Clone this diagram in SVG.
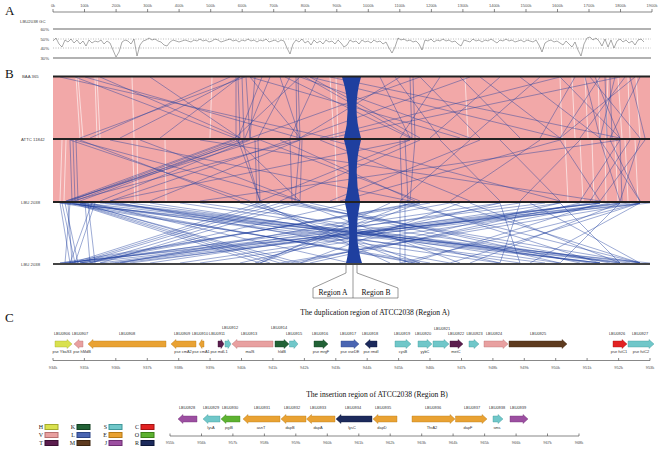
<svg xmlns="http://www.w3.org/2000/svg" width="662" height="449" viewBox="0 0 662 449">
<style>
.lab{font-family:"Liberation Sans",Arial,sans-serif;font-size:3.9px;fill:#333;text-anchor:middle}
.tk{font-family:"Liberation Sans",Arial,sans-serif;font-size:4px;fill:#555;text-anchor:middle}
.sm{font-family:"Liberation Sans",Arial,sans-serif;font-size:4.3px;fill:#444}
.ttl{font-family:"Liberation Serif","Times New Roman",serif;font-size:7.6px;fill:#111;text-anchor:middle}
.big{font-family:"Liberation Serif","Times New Roman",serif;font-size:13px;fill:#111}
.leg{font-family:"Liberation Serif","Times New Roman",serif;font-size:6px;fill:#222;text-anchor:end}
.ax{stroke:#555;stroke-width:0.7;fill:none}
.bar{stroke:#222;stroke-width:2}
.syn{stroke:#1f3f9f;stroke-width:0.55;stroke-opacity:0.8;fill:none}
.wst{stroke:#fff;stroke-width:0.8;stroke-opacity:0.75;fill:none}
.gene{stroke-width:0.4}
.H{fill:#d9e14e;stroke:#a3aa2c}.V{fill:#e8a0a0;stroke:#b77070}.T{fill:#5b1d4e;stroke:#3a0f32}
.K{fill:#226236;stroke:#123f20}.L{fill:#4a65b2;stroke:#2d4585}.M{fill:#5e3b1f;stroke:#3c240f}
.S{fill:#70c7c9;stroke:#3f9799}.E{fill:#e9a233;stroke:#b67a17}.J{fill:#9c4fa1;stroke:#6e2e73}
.C{fill:#e22222;stroke:#a51212}.O{fill:#5db231;stroke:#3c8018}.R{fill:#1c2a5c;stroke:#0c1638}
</style>

<!-- Section A -->
<text class="big" x="5" y="15">A</text>
<g id="genome-axis">
<path class="ax" d="M53,12H652M53,12v-3M84.5,12v-3M116.1,12v-3M147.6,12v-3M179.1,12v-3M210.7,12v-3M242.2,12v-3M273.7,12v-3M305.2,12v-3M336.8,12v-3M368.3,12v-3M399.8,12v-3M431.4,12v-3M462.9,12v-3M494.4,12v-3M526,12v-3M557.5,12v-3M589,12v-3M620.5,12v-3M652,12v-3"/>
<text class="tk" x="53" y="7">0k</text><text class="tk" x="84.5" y="7">100k</text><text class="tk" x="116.1" y="7">200k</text><text class="tk" x="147.6" y="7">300k</text><text class="tk" x="179.1" y="7">400k</text><text class="tk" x="210.7" y="7">500k</text><text class="tk" x="242.2" y="7">600k</text><text class="tk" x="273.7" y="7">700k</text><text class="tk" x="305.2" y="7">800k</text><text class="tk" x="336.8" y="7">900k</text><text class="tk" x="368.3" y="7">1000k</text><text class="tk" x="399.8" y="7">1100k</text><text class="tk" x="431.4" y="7">1200k</text><text class="tk" x="462.9" y="7">1300k</text><text class="tk" x="494.4" y="7">1400k</text><text class="tk" x="526" y="7">1500k</text><text class="tk" x="557.5" y="7">1600k</text><text class="tk" x="589" y="7">1700k</text><text class="tk" x="620.5" y="7">1800k</text><text class="tk" x="652" y="7">1900k</text>
</g>
<g id="gc-plot">
<text class="sm" x="20" y="23">LBU2038 GC</text>
<path d="M53,29H651M53,58H651" stroke="#666" stroke-width="1.2"/>
<path d="M53,39H651M53,48H651" stroke="#777" stroke-width="0.5" stroke-dasharray="1,1.5"/>
<text class="sm" x="49" y="30.5" text-anchor="end">60%</text>
<text class="sm" x="49" y="40.5" text-anchor="end">50%</text>
<text class="sm" x="49" y="49.5" text-anchor="end">40%</text>
<text class="sm" x="49" y="59.5" text-anchor="end">30%</text>
<polyline fill="none" stroke="#555" stroke-width="0.5" points="53,41 56,38 59,44 62,47 65,40 68,42 71,39 74,43 77,40 80,44 83,41 86,46 89,40 92,43 95,41 98,42 101,40 104,44 107,41 110,43 113,50 116,57 119,52 122,42 125,40 128,41 131,44 134,39 137,56 140,45 143,41 146,40 149,38 152,40 155,39 158,41 161,42 164,45 167,46 170,42 173,40 176,41 179,42 182,41 185,40 188,41 191,42 194,40 197,41 200,39 203,41 206,40 209,42 212,41 215,39 218,40 221,42 224,41 227,40 230,39 233,41 236,40 239,42 242,40 245,41 248,39 251,41 254,40 257,42 260,40 263,41 266,39 269,42 272,41 275,40 278,42 281,40 284,41 287,48 290,54 293,44 296,40 299,42 302,39 305,43 308,41 311,45 314,40 317,43 320,41 323,44 326,40 329,42 332,41 335,44 338,40 341,43 344,47 347,45 350,40 353,42 356,41 359,44 362,40 365,42 368,41 371,43 374,40 377,42 380,41 383,44 386,42 389,48 392,53 395,47 398,38 401,40 404,39 407,41 410,40 413,42 416,41 419,44 422,50 425,40 428,41 431,39 434,42 437,40 440,41 443,39 446,41 449,40 452,42 455,41 458,44 461,46 464,40 467,41 470,42 473,39 476,41 479,40 482,42 485,40 488,41 491,39 494,41 497,43 500,40 503,41 506,39 509,41 512,40 515,42 518,41 521,40 524,42 527,40 530,41 533,42 536,40 539,45 542,52 545,43 548,41 551,40 554,42 557,41 560,43 563,45 566,41 569,44 572,47 575,42 578,50 581,56 584,44 587,38 590,37 593,40 596,38 599,41 602,46 605,39 608,47 611,40 614,48 617,41 620,39 623,42 626,40 629,43 632,41 635,45 638,40 641,39 644,42"/>
</g>

<!-- Section B -->
<text class="big" x="5" y="78">B</text>
<g id="synteny-background">
<rect x="53" y="77" width="597" height="61" fill="#f2a8a8"/>
<rect x="53" y="140" width="597" height="61" fill="#f2a8a8"/>
<path class="wst" d="M76 77L80 138M78 77L83 138M95 77L97 138M97 77L100 138M132 77L134 138M212 77L210 138M330 77L334 138M336 77L338 138M465 77L468 138M560 77L562 138M572 77L575 138M585 77L588 138M598 77L600 138M608 77L606 138M618 77L622 138M628 77L630 138M636 77L640 138M62 140L60 201M66 140L64 201M132 140L135 201M137 140L138 201M165 140L166 201M335 140L337 201M565 140L568 201M580 140L583 201M592 140L594 201M605 140L606 201M615 140L618 201M625 140L628 201M635 140L638 201"/>
</g>
<g id="connectors">
<path class="syn" d="M75 77L235 138M85 77L300 138M100 77L240 138M230 77L90 138M240 77L120 138M250 77L300 138M262 77L238 138M270 77L245 138M280 77L300 138M290 77L258 138M300 77L235 138M305 77L412 138M310 77L420 138M318 77L290 138M380 77L410 138M395 77L440 138M400 77L300 138M420 77L480 138M440 77L400 138M460 77L520 138M480 77L560 138M500 77L430 138M520 77L600 138M540 77L470 138M560 77L620 138M575 77L540 138M590 77L640 138M600 77L560 138M615 77L600 138M625 77L580 138M630 77L645 138M640 77L610 138M300 77L470 138M310 77L560 138M470 77L300 138M560 77L320 138M150 77L240 138M240 77L160 138M250 77L460 138M420 77L250 138M330 77L620 138M620 77L330 138M236 77L236 138M238 77L240 138M242 77L244 138M246 77L250 138M296 77L297 138M298 77L300 138M410 77L412 138M413 77L415 138M605 77L607 138M610 77L612 138M60 77L330 138M245 77L80 138M255 77L250 138M285 77L410 138M585 77L600 138M595 77L620 138M635 77L560 138"/>
<path class="syn" d="M235 140L70 201M240 140L75 201M245 140L80 201M300 140L72 201M236 140L300 201M238 140L260 201M250 140L100 201M80 140L240 201M75 140L300 201M70 140L250 201M260 140L66 201M290 140L110 201M300 140L295 201M302 140L300 201M410 140L260 201M420 140L280 201M415 140L410 201M260 140L420 201M280 140L415 201M440 140L500 201M470 140L400 201M500 140L560 201M540 140L450 201M560 140L600 201M580 140L520 201M600 140L640 201M620 140L580 201M640 140L620 201M645 140L600 201M600 140L620 201M330 140L560 201M560 140L340 201M320 140L470 201M480 140L330 201M140 140L300 201M300 140L150 201M110 140L410 201M410 140L110 201M200 140L600 201M620 140L200 201M70 140L72 201M73 140L75 201M76 140L78 201M255 140L257 201M258 140L260 201M290 140L292 201M400 140L402 201M405 140L408 201M620 140L622 201M232 140L66 201M242 140L260 201M248 140L68 201M610 140L640 201M630 140L590 201"/>
<path class="syn" d="M60 203L70 263M62 203L75 263M65 203L78 263M68 203L72 263M70 203L65 263M72 203L260 263M74 203L270 263M76 203L280 263M78 203L300 263M80 203L290 263M100 203L600 263M105 203L620 263M110 203L640 263M260 203L72 263M270 203L76 263M280 203L80 263M290 203L90 263M300 203L100 263M600 203L100 263M620 203L110 263M640 203L120 263M250 203L410 263M255 203L420 263M410 203L255 263M420 203L260 263M400 203L400 263M405 203L405 263M300 203L560 263M310 203L580 263M560 203L300 263M580 203L310 263M450 203L640 263M470 203L620 263M640 203L450 263M620 203L470 263M500 203L520 263M520 203L500 263M530 203L640 263M640 203L530 263M60 203L650 263M650 203L60 263M65 203L600 263M600 203L65 263M80 203L500 263M500 203L80 263M120 203L450 263M450 203L120 263M150 203L560 263M560 203L150 263M200 203L620 263M620 203L200 263M70 203L420 263M420 203L70 263M90 203L350 263M350 203L90 263M280 203L640 263M640 203L280 263M300 203L460 263M460 203L300 263M390 203L260 263M260 203L390 263M240 203L500 263M500 203L240 263M130 203L600 263M600 203L130 263M85 203L90 263M88 203L95 263M92 203L70 263M95 203L75 263M400 203L640 263M640 203L400 263M410 203L600 263M600 203L410 263M430 203L60 263M60 203L430 263M560 203L620 263M620 203L560 263M66 203L545 263M545 203L66 263M82 203L630 263M630 203L82 263M115 203L520 263M520 203L115 263M180 203L590 263M590 203L180 263M290 203L610 263M610 203L290 263M415 203L80 263M80 203L415 263"/>
<path fill="#1f3f9f" d="M342,77L361,77Q352,108 361,138L344,138Q352,108 342,77Z M344,140L361,140Q353,170 360,201L345,201Q353,170 344,140Z M345,203L360,203Q353,235 362,263L346,263Q353,235 345,203Z"/>
</g>
<g id="genome-bars">
<path class="bar" d="M53,76.5H650M53,139H650M53,202H650"/>
<path d="M53,264H650" stroke="#444" stroke-width="2.2"/>
<text class="sm" x="22" y="78">BAA 365</text>
<text class="sm" x="21" y="140.5">ATTC 11842</text>
<text class="sm" x="21" y="203.5">LBU 2038</text>
<text class="sm" x="21" y="265.5">LBU 2038</text>
</g>
<g id="region-callout">
<path d="M346,265V273L313,288V298H398V288L357,273V265M353,265V298" fill="none" stroke="#555" stroke-width="0.6"/>
<text class="ttl" x="333" y="295">Region A</text>
<text class="ttl" x="376" y="295">Region B</text>
</g>

<!-- Section C -->
<text class="big" x="5" y="322">C</text>
<text class="ttl" x="375" y="315">The duplication region of ATCC2038 (Region A)</text>
<g id="axis-regionA">
<path class="ax" d="M53,360.5H650M53,360.5v-2.5M84.4,360.5v-2.5M115.8,360.5v-2.5M147.3,360.5v-2.5M178.7,360.5v-2.5M210.1,360.5v-2.5M241.5,360.5v-2.5M272.9,360.5v-2.5M304.4,360.5v-2.5M335.8,360.5v-2.5M367.2,360.5v-2.5M398.6,360.5v-2.5M430,360.5v-2.5M461.5,360.5v-2.5M492.9,360.5v-2.5M524.3,360.5v-2.5M555.7,360.5v-2.5M587.1,360.5v-2.5M618.6,360.5v-2.5M650,360.5v-2.5"/>
<text class="tk" x="53" y="369">934k</text><text class="tk" x="84.4" y="369">935k</text><text class="tk" x="115.8" y="369">936k</text><text class="tk" x="147.3" y="369">937k</text><text class="tk" x="178.7" y="369">938k</text><text class="tk" x="210.1" y="369">939k</text><text class="tk" x="241.5" y="369">940k</text><text class="tk" x="272.9" y="369">941k</text><text class="tk" x="304.4" y="369">942k</text><text class="tk" x="335.8" y="369">943k</text><text class="tk" x="367.2" y="369">944k</text><text class="tk" x="398.6" y="369">945k</text><text class="tk" x="430" y="369">946k</text><text class="tk" x="461.5" y="369">947k</text><text class="tk" x="492.9" y="369">948k</text><text class="tk" x="524.3" y="369">949k</text><text class="tk" x="555.7" y="369">950k</text><text class="tk" x="587.1" y="369">951k</text><text class="tk" x="618.6" y="369">952k</text><text class="tk" x="650" y="369">953k</text>
</g>
<g id="gene-LBU0906"><polygon class="gene H" points="55,341 67,341 67,339.5 72,344 67,348.5 67,347 55,347"/><text class="lab" x="62" y="335">LBU0906</text><text class="lab" x="62" y="353">pse YbaS3</text></g>
<g id="gene-LBU0907"><polygon class="gene V" points="83,341 79,341 79,339.5 74,344 79,348.5 79,347 83,347"/><text class="lab" x="80" y="335">LBU0907</text><text class="lab" x="82" y="353">pse hMdB</text></g>
<g id="gene-LBU0908"><polygon class="gene E" points="166,341 93,341 93,339.5 88,344 93,348.5 93,347 166,347"/><text class="lab" x="127" y="335">LBU0908</text></g>
<g id="gene-LBU0909"><polygon class="gene E" points="196,341 176,341 176,339.5 171,344 176,348.5 176,347 196,347"/><text class="lab" x="182" y="335">LBU0909</text><text class="lab" x="183" y="353">pse cmA2</text></g>
<g id="gene-LBU0910"><polygon class="gene E" points="204,341 202,341 202,339.5 199,344 202,348.5 202,347 204,347"/><text class="lab" x="200" y="335">LBU0910</text><text class="lab" x="201" y="353">pse cmA1</text></g>
<g id="gene-LBU0911"><polygon class="gene T" points="218,341 221,341 221,339.5 224,344 221,348.5 221,347 218,347"/><text class="lab" x="217" y="335">LBU0911</text><text class="lab" x="219" y="353">pse mdL1</text></g>
<g id="gene-LBU0912"><polygon class="gene S" points="225,341 228,341 228,339.5 231,344 228,348.5 228,347 225,347"/><text class="lab" x="230" y="329">LBU0912</text></g>
<g id="gene-LBU0913"><polygon class="gene V" points="273,341 237,341 237,339.5 232,344 237,348.5 237,347 273,347"/><text class="lab" x="249" y="335">LBU0913</text><text class="lab" x="250" y="353">malS</text></g>
<g id="gene-LBU0914"><polygon class="gene K" points="275,341 284,341 284,339.5 289,344 284,348.5 284,347 275,347"/><text class="lab" x="279" y="329">LBU0914</text><text class="lab" x="282" y="353">hldB</text></g>
<g id="gene-LBU0915"><polygon class="gene S" points="289.5,341 294,341 294,339.5 298,344 294,348.5 294,347 289.5,347"/><text class="lab" x="294" y="335">LBU0915</text></g>
<g id="gene-LBU0916"><polygon class="gene K" points="314,341 323,341 323,339.5 328,344 323,348.5 323,347 314,347"/><text class="lab" x="320" y="335">LBU0916</text><text class="lab" x="321" y="353">pse mrgF</text></g>
<g id="gene-LBU0917"><polygon class="gene L" points="341,341 354,341 354,339.5 359,344 354,348.5 354,347 341,347"/><text class="lab" x="348" y="335">LBU0917</text><text class="lab" x="350" y="353">pse xseDE</text></g>
<g id="gene-LBU0918"><polygon class="gene R" points="377,341 370,341 370,339.5 365,344 370,348.5 370,347 377,347"/><text class="lab" x="370" y="335">LBU0918</text><text class="lab" x="371" y="353">pse rmdI</text></g>
<g id="gene-LBU0919"><polygon class="gene S" points="395,341 406,341 406,339.5 411,344 406,348.5 406,347 395,347"/><text class="lab" x="402" y="335">LBU0919</text><text class="lab" x="403" y="353">cysB</text></g>
<g id="gene-LBU0920"><polygon class="gene S" points="418,341 427,341 427,339.5 432,344 427,348.5 427,347 418,347"/><text class="lab" x="423" y="335">LBU0920</text><text class="lab" x="425" y="353">yybC</text></g>
<g id="gene-LBU0921"><polygon class="gene S" points="433,341 444,341 444,339.5 449,344 444,348.5 444,347 433,347"/><text class="lab" x="442" y="330">LBU0921</text></g>
<g id="gene-LBU0922"><polygon class="gene T" points="450,341 458,341 458,339.5 463,344 458,348.5 458,347 450,347"/><text class="lab" x="456" y="335">LBU0922</text><text class="lab" x="456" y="353">metC</text></g>
<g id="gene-LBU0923"><polygon class="gene S" points="469,341 474,341 474,339.5 479,344 474,348.5 474,347 469,347"/><text class="lab" x="474.5" y="335">LBU0923</text></g>
<g id="gene-LBU0924"><polygon class="gene V" points="484,341 503,341 503,339.5 508,344 503,348.5 503,347 484,347"/><text class="lab" x="494" y="335">LBU0924</text></g>
<g id="gene-LBU0925"><polygon class="gene M" points="509,341 562,341 562,339.5 567,344 562,348.5 562,347 509,347"/><text class="lab" x="538" y="335">LBU0925</text></g>
<g id="gene-LBU0926"><polygon class="gene C" points="613,341 622,341 622,339.5 627,344 622,348.5 622,347 613,347"/><text class="lab" x="617" y="335">LBU0926</text><text class="lab" x="619" y="353">pse fstC1</text></g>
<g id="gene-LBU0927"><polygon class="gene S" points="628,341 649,341 649,339.5 654,344 649,348.5 649,347 628,347"/><text class="lab" x="640" y="335">LBU0927</text><text class="lab" x="641" y="353">pse fstC2</text></g>

<text class="ttl" x="377" y="397">The insertion region of ATCC2038 (Region B)</text>
<g id="axis-regionB">
<path class="ax" d="M170,436H579M170,436v-2.5M201.5,436v-2.5M232.9,436v-2.5M264.4,436v-2.5M295.8,436v-2.5M327.3,436v-2.5M358.8,436v-2.5M390.2,436v-2.5M421.7,436v-2.5M453.1,436v-2.5M484.6,436v-2.5M516.1,436v-2.5M547.5,436v-2.5M579,436v-2.5"/>
<text class="tk" x="170" y="444">955k</text><text class="tk" x="201.5" y="444">956k</text><text class="tk" x="232.9" y="444">957k</text><text class="tk" x="264.4" y="444">958k</text><text class="tk" x="295.8" y="444">959k</text><text class="tk" x="327.3" y="444">960k</text><text class="tk" x="358.8" y="444">961k</text><text class="tk" x="390.2" y="444">962k</text><text class="tk" x="421.7" y="444">963k</text><text class="tk" x="453.1" y="444">964k</text><text class="tk" x="484.6" y="444">965k</text><text class="tk" x="516.1" y="444">966k</text><text class="tk" x="547.5" y="444">967k</text><text class="tk" x="579" y="444">968k</text>
</g>
<g id="gene-LBU0928"><polygon class="gene J" points="197,416 183,416 183,414.5 178,419 183,423.5 183,422 197,422"/><text class="lab" x="187" y="409">LBU0928</text></g>
<g id="gene-LBU0929"><polygon class="gene S" points="220,416 208,416 208,414.5 203,419 208,423.5 208,422 220,422"/><text class="lab" x="211" y="409">LBU0929</text><text class="lab" x="211" y="429">lysA</text></g>
<g id="gene-LBU0930"><polygon class="gene O" points="240,416 226,416 226,414.5 221,419 226,423.5 226,422 240,422"/><text class="lab" x="230" y="409">LBU0930</text><text class="lab" x="229" y="429">pgiB</text></g>
<g id="gene-LBU0931"><polygon class="gene E" points="280,416 248,416 248,414.5 243,419 248,423.5 248,422 280,422"/><text class="lab" x="262" y="409">LBU0931</text><text class="lab" x="261" y="429">asnT</text></g>
<g id="gene-LBU0932"><polygon class="gene E" points="306,416 286,416 286,414.5 281,419 286,423.5 286,422 306,422"/><text class="lab" x="292" y="409">LBU0932</text><text class="lab" x="290" y="429">dapB</text></g>
<g id="gene-LBU0933"><polygon class="gene E" points="335,416 311.5,416 311.5,414.5 306.5,419 311.5,423.5 311.5,422 335,422"/><text class="lab" x="318" y="409">LBU0933</text><text class="lab" x="318" y="429">dapA</text></g>
<g id="gene-LBU0934"><polygon class="gene R" points="372,416 341,416 341,414.5 336,419 341,423.5 341,422 372,422"/><text class="lab" x="353" y="409">LBU0934</text><text class="lab" x="352" y="429">lysC</text></g>
<g id="gene-LBU0935"><polygon class="gene E" points="397,416 378,416 378,414.5 373,419 378,423.5 378,422 397,422"/><text class="lab" x="383" y="409">LBU0935</text><text class="lab" x="382" y="429">dapD</text></g>
<g id="gene-LBU0936"><polygon class="gene E" points="412,416 450,416 450,414.5 455,419 450,423.5 450,422 412,422"/><text class="lab" x="433" y="409">LBU0936</text><text class="lab" x="432" y="429">ThrA2</text></g>
<g id="gene-LBU0937"><polygon class="gene E" points="455.5,416 482,416 482,414.5 487,419 482,423.5 482,422 455.5,422"/><text class="lab" x="472" y="409">LBU0937</text><text class="lab" x="468" y="429">dapF</text></g>
<g id="gene-LBU0938"><polygon class="gene S" points="493,416 498,416 498,414.5 503,419 498,423.5 498,422 493,422"/><text class="lab" x="497" y="409">LBU0938</text><text class="lab" x="497" y="429">sms</text></g>
<g id="gene-LBU0939"><polygon class="gene J" points="510,416 523,416 523,414.5 528,419 523,423.5 523,422 510,422"/><text class="lab" x="518" y="409">LBU0939</text></g>

<g id="legend">
<text class="leg" x="43" y="429">H</text><rect class="H" x="45" y="424.5" width="13" height="5"/>
<text class="leg" x="43" y="437">V</text><rect class="V" x="45" y="432.5" width="13" height="5"/>
<text class="leg" x="43" y="445">T</text><rect class="T" x="45" y="440.5" width="13" height="5"/>
<text class="leg" x="75" y="429">K</text><rect class="K" x="77" y="424.5" width="13" height="5"/>
<text class="leg" x="75" y="437">L</text><rect class="L" x="77" y="432.5" width="13" height="5"/>
<text class="leg" x="75" y="445">M</text><rect class="M" x="77" y="440.5" width="13" height="5"/>
<text class="leg" x="107" y="429">S</text><rect class="S" x="109" y="424.5" width="13" height="5"/>
<text class="leg" x="107" y="437">E</text><rect class="E" x="109" y="432.5" width="13" height="5"/>
<text class="leg" x="107" y="445">J</text><rect class="J" x="109" y="440.5" width="13" height="5"/>
<text class="leg" x="139" y="429">C</text><rect class="C" x="141" y="424.5" width="13" height="5"/>
<text class="leg" x="139" y="437">O</text><rect class="O" x="141" y="432.5" width="13" height="5"/>
<text class="leg" x="139" y="445">R</text><rect class="R" x="141" y="440.5" width="13" height="5"/>
</g>
</svg>
